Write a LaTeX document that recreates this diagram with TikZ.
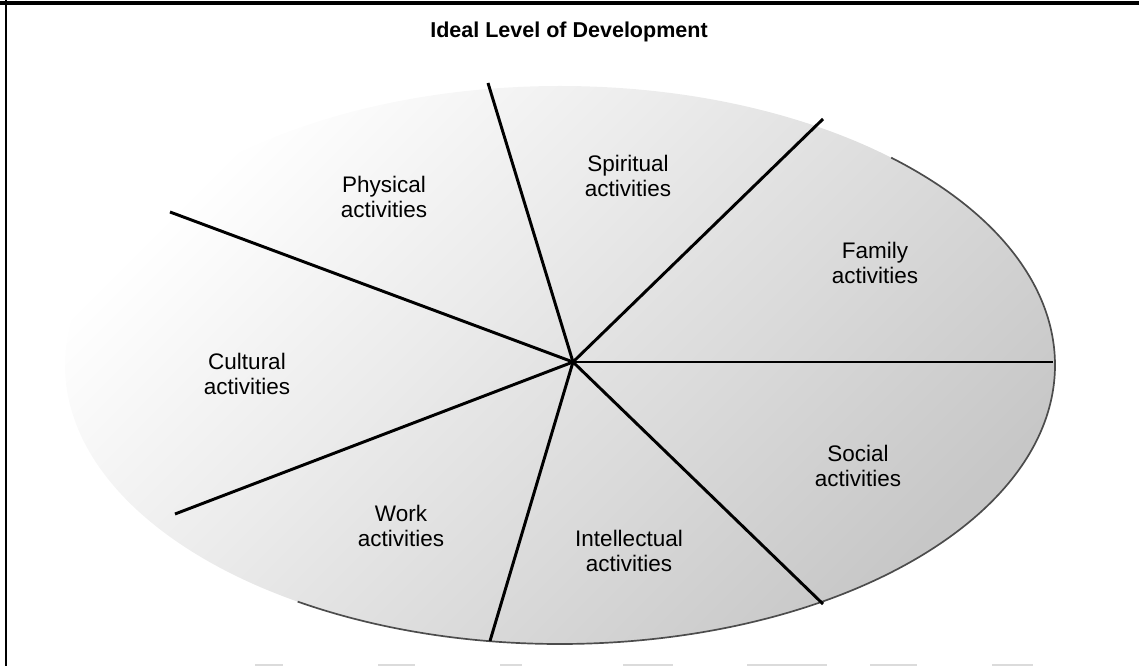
\documentclass[tikz,border=0pt]{standalone}
\usepackage{fontspec}
\setmainfont{Liberation Sans}
\tikzset{
  sector/.style={font=\fontsize{16}{17.7}\selectfont, align=center, inner sep=0pt},
  heading/.style={font=\fontsize{15.3}{18}\selectfont\bfseries, inner sep=0pt},
  spoke/.style={line width=2.1pt, black},
  rim/.style={line width=1.2pt, black!70},
}

\begin{document}
\begin{tikzpicture}[x=0.025cm, y=0.025cm]
    \useasboundingbox (0,0) rectangle (1139,666);
    % tinted disc, fading out towards the upper left
    \shade[top color=white, middle color=black!4, bottom color=black!22, shading angle=45]
      (560,301) ellipse [x radius=495, y radius=279];
    \draw[rim] (560,301) ++(48:495 and 279)
      arc[start angle=48, end angle=-122, x radius=495, y radius=279];

    % spokes out of the hub
    \coordinate (hub) at (573,304);
    \coordinate (e1) at (488,583);
    \coordinate (e2) at (823,547);
    \coordinate (e3) at (1053,304);
    \coordinate (e4) at (823,62);
    \coordinate (e5) at (490,25);
    \coordinate (e6) at (175,152);
    \coordinate (e7) at (170,454);
    \foreach \e in {e1,e2,e3,e4,e5,e6,e7}
      \draw[spoke] (hub) -- (\e);

    \node[heading] (title) at (569,634) {Ideal Level of Development};
    \node[sector] (phys)  at (384,469) {Physical\\activities};
    \node[sector] (spir)  at (628,490) {Spiritual\\activities};
    \node[sector] (fam)   at (875,403) {Family\\activities};
    \node[sector] (cult)  at (247,292) {Cultural\\activities};
    \node[sector] (soc)   at (858,200) {Social\\activities};
    \node[sector] (work)  at (401,140) {Work\\activities};
    \node[sector] (intel) at (629,115) {Intellectual\\activities};

    % page frame, top and left only
    \draw[line width=2.8pt] (0,663) -- (1139,663);
    \draw[line width=1.4pt] (6,666) -- (6,0);
    \foreach \a/\b in {255/283,378/415,500/522,623/673,747/827,870/917,992/1033}
      \fill[black!14] (\a,0) rectangle (\b,2.5);
  \end{tikzpicture}
\end{document}
